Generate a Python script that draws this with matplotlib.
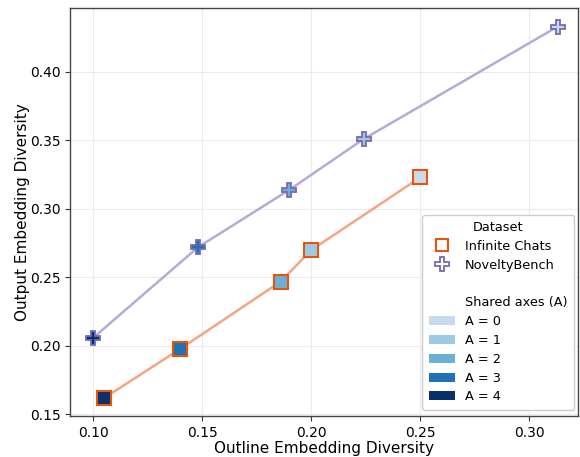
import matplotlib
matplotlib.use("Agg")
import matplotlib.pyplot as plt
from matplotlib.lines import Line2D
from matplotlib.patches import Patch

# Infinite Chats (squares)
ic_x = [0.105, 0.140, 0.186, 0.200, 0.250]
ic_y = [0.162, 0.198, 0.247, 0.270, 0.323]
ic_a = [4, 3, 2, 1, 0]

# NoveltyBench (plus)
nb_x = [0.100, 0.148, 0.190, 0.224, 0.313]
nb_y = [0.206, 0.272, 0.314, 0.351, 0.433]
nb_a = [4, 3, 2, 1, 0]

a_levels = [0, 1, 2, 3, 4]
blues = ["#c6dbef", "#9ecae1", "#6baed6", "#2171b5", "#08306b"]

fig, ax = plt.subplots(figsize=(5.8, 4.57), dpi=100)
fig.subplots_adjust(left=0.121, right=0.997, top=0.983, bottom=0.09)

ax.grid(True, color="#ebebeb", linewidth=0.8)
ax.set_axisbelow(True)

ax.plot(ic_x, ic_y, color="#f4a582", linewidth=1.8, zorder=2)
ax.plot(nb_x, nb_y, color="#b3acd6", linewidth=1.8, zorder=2)

for x, y, a in zip(ic_x, ic_y, ic_a):
    ax.plot(x, y, marker="s", markersize=10.5, markerfacecolor=blues[a],
            markeredgecolor="#e6550d", markeredgewidth=1.5, linestyle="none", zorder=3)
for x, y, a in zip(nb_x, nb_y, nb_a):
    ax.plot(x, y, marker="P", markersize=10.5, markerfacecolor=blues[a],
            markeredgecolor="#756bb1", markeredgewidth=1.3, linestyle="none", zorder=3)

ax.set_xlim(0.0894, 0.3225)
ax.set_ylim(0.149, 0.4468)
ax.set_xticks([0.10, 0.15, 0.20, 0.25, 0.30])
ax.set_yticks([0.15, 0.20, 0.25, 0.30, 0.35, 0.40])
ax.set_xticklabels(["0.10", "0.15", "0.20", "0.25", "0.30"])
ax.set_yticklabels(["0.15", "0.20", "0.25", "0.30", "0.35", "0.40"])
ax.tick_params(labelsize=10, color="#333333", length=3.5)
ax.set_xlabel("Outline Embedding Diversity", fontsize=11, labelpad=1)
ax.set_ylabel("Output Embedding Diversity", fontsize=11, labelpad=0)
for s in ax.spines.values():
    s.set_color("#444444")
    s.set_linewidth(1.0)

handles = [
    Line2D([], [], marker="s", linestyle="none", markersize=9, markerfacecolor="white",
           markeredgecolor="#e6550d", markeredgewidth=1.5),
    Line2D([], [], marker="P", linestyle="none", markersize=10, markerfacecolor="white",
           markeredgecolor="#756bb1", markeredgewidth=1.3),
    Line2D([], [], linestyle="none"),
    Line2D([], [], linestyle="none"),
]
labels = ["Infinite Chats", "NoveltyBench", "", "Shared axes (A)"]
for a in a_levels:
    handles.append(Patch(facecolor=blues[a], edgecolor="none"))
    labels.append(f"A = {a}")

leg = ax.legend(handles, labels, title="Dataset", loc="lower right",
                bbox_to_anchor=(0.992, 0.0147), borderaxespad=0,
                fontsize=9.3, title_fontsize=9.3,
                framealpha=1.0, edgecolor="#cccccc", borderpad=0.5,
                labelspacing=0.45, handlelength=2.0)

fig.savefig("out.png", dpi=100)
